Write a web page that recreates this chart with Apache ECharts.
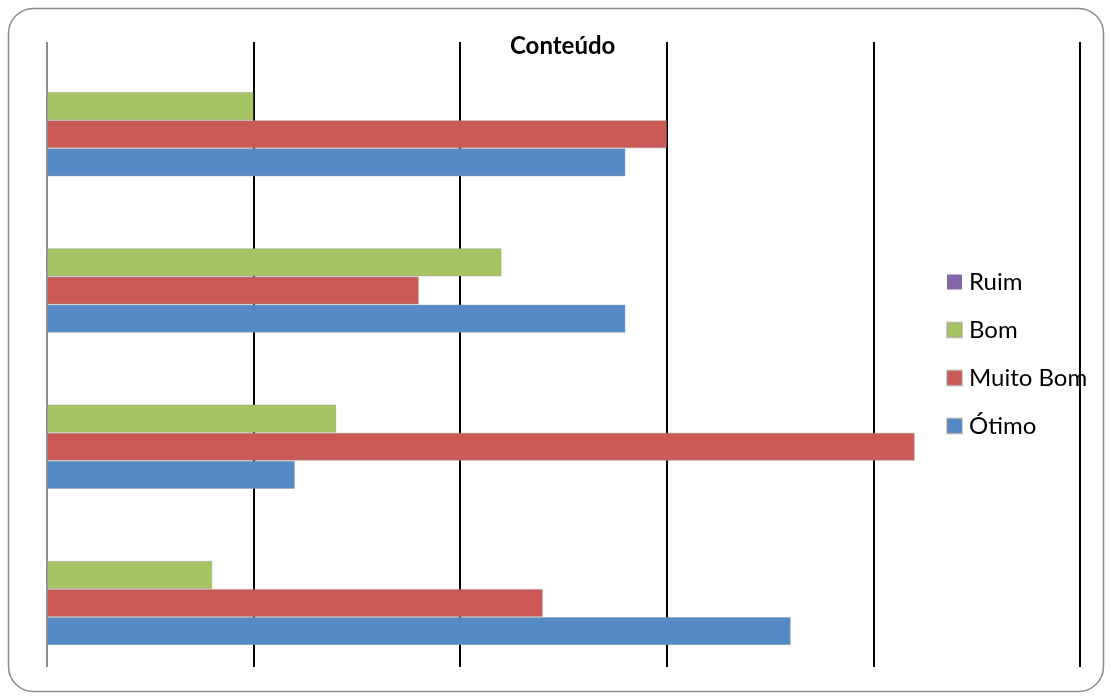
<!DOCTYPE html>
<html>
<head>
<meta charset="utf-8">
<style>
  html, body { margin: 0; padding: 0; background: #ffffff; }
  #chart { width: 1111px; height: 697px; }
</style>
<script src="https://cdn.jsdelivr.net/npm/echarts@6/dist/echarts.min.js"></script>
</head>
<body>
<div id="chart"></div>
<script>
// Question groups, listed bottom to top along the vertical axis
const categories = ['Q4', 'Q3', 'Q2', 'Q1'];

// Answer counts per rating
const otimo    = [18, 6, 14, 14];
const muitoBom = [12, 21, 9, 15];
const bom      = [4, 7, 11, 5];
const ruim     = [0, 0, 0, 0];

// Value axis ticks
const axisMin = 0;
const axisMax = 25;
const axisStep = 5;

const chart = echarts.init(document.getElementById('chart'));

const colors = {
  ruim: '#8466AB',
  bom: '#A5C463',
  muitoBom: '#CB5A56',
  otimo: '#568AC7'
};

function barSeries(name, data, color, withBorder) {
  return {
    name: name,
    type: 'bar',
    data: data,
    barGap: '0%',
    barCategoryGap: '28%',
    itemStyle: {
      color: color,
      borderColor: withBorder ? 'rgba(150,150,150,0.45)' : color,
      borderWidth: withBorder ? 1 : 0
    },
    emphasis: { disabled: true }
  };
}

chart.setOption({
  animation: false,
  backgroundColor: '#ffffff',
  title: {
    text: 'Conteúdo',
    left: 510,
    top: 34,
    padding: 0,
    textStyle: {
      fontFamily: 'Lato',
      fontWeight: 'bold',
      fontSize: 24,
      color: '#000000'
    }
  },
  legend: {
    orient: 'vertical',
    left: 946,
    top: 270,
    padding: 0,
    itemWidth: 15,
    itemHeight: 15,
    itemGap: 24,
    icon: 'rect',
    selectedMode: false,
    data: ['Ruim', 'Bom', 'Muito Bom', 'Ótimo'],
    textStyle: {
      fontFamily: 'Lato',
      fontSize: 24,
      color: '#000000',
      padding: [0, 0, 0, 2]
    }
  },
  grid: {
    left: 47,
    right: 31,
    top: 42,
    bottom: 30,
    containLabel: false
  },
  xAxis: {
    type: 'value',
    min: axisMin,
    max: axisMax,
    interval: axisStep,
    axisLine: { show: false },
    axisTick: { show: false },
    axisLabel: { show: false },
    splitLine: {
      show: true,
      lineStyle: {
        color: ['#8c8c8c', '#000000', '#000000', '#000000', '#000000', '#000000'],
        width: 2
      }
    }
  },
  yAxis: {
    type: 'category',
    data: categories,
    axisLine: { show: false },
    axisTick: { show: false },
    axisLabel: { show: false },
    splitLine: { show: false }
  },
  // Within each group the first series sits on top
  series: [
    barSeries('Ruim', ruim, colors.ruim, false),
    barSeries('Bom', bom, colors.bom, true),
    barSeries('Muito Bom', muitoBom, colors.muitoBom, true),
    barSeries('Ótimo', otimo, colors.otimo, true)
  ],
  graphic: [{
    type: 'rect',
    silent: true,
    z: -1,
    shape: { x: 8.5, y: 8.5, width: 1095, height: 683, r: 25 },
    style: { fill: 'none', stroke: '#8a8a8a', lineWidth: 1.5 }
  }]
});
</script>
</body>
</html>
